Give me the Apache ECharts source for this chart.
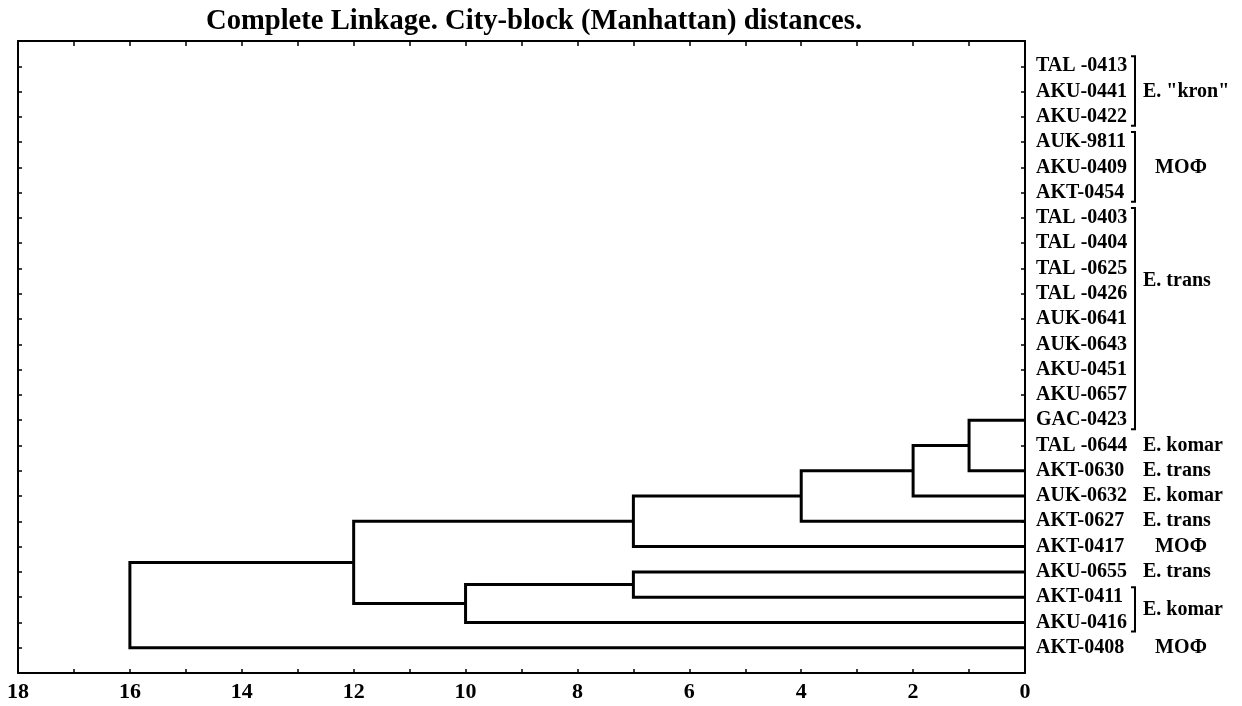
<!DOCTYPE html>
<html>
<head>
<meta charset="utf-8">
<script src="https://cdn.jsdelivr.net/npm/echarts@6/dist/echarts.min.js"></script>
<style>html,body{margin:0;padding:0;background:#fff}#c{width:1242px;height:706px}</style>
</head>
<body>
<div id="c"></div>
<script>
// Leaves, top to bottom (position 1..24)
const leafNames = ['TAL -0413','AKU-0441','AKU-0422','AUK-9811','AKU-0409','AKT-0454',
  'TAL -0403','TAL -0404','TAL -0625','TAL -0426','AUK-0641','AUK-0643','AKU-0451',
  'AKU-0657','GAC-0423','TAL -0644','AKT-0630','AUK-0632','AKT-0627','AKT-0417',
  'AKU-0655','AKT-0411','AKU-0416','AKT-0408'];
// Leaves 1..16 join at distance 0; the group is drawn at the position of GAC-0423
const zeroGroupAnchor = 15;
// Merges: children are leaf positions (numbers) or earlier merge ids
const mergeIds   = ['B','C','D','E','F','G','H','I'];
const mergeLeft  = ['Z','B','C','D',21,'F','E','H'];
const mergeRight = [17, 18, 19, 20, 22, 23,'G',24];
const mergeDist  = [1, 2, 4, 7, 7, 10, 12, 16];
// x axis
const xMin = 0, xMax = 18, xLabelStep = 2;
// right-side annotations
const groupStart = [1, 4, 7, 22];
const groupEnd   = [3, 6, 15, 23];
const groupLabelPos = [2, 5, 9.5, 22.5];
const groupNames = ['E. "kron"', 'МОФ', 'E. trans', 'E. komar'];
const singlePos   = [16, 17, 18, 19, 20, 21, 24];
const singleNames = ['E. komar','E. trans','E. komar','E. trans','МОФ','E. trans','МОФ'];

const FONT = '"Liberation Serif","Times New Roman",serif';

// build dendrogram polylines
const node = {Z: {h: 0, y: zeroGroupAnchor}};
function get(id) { return typeof id === 'number' ? {h: 0, y: id} : node[id]; }
const segs = [];
mergeIds.forEach((id, i) => {
  const a = get(mergeLeft[i]), b = get(mergeRight[i]), h = mergeDist[i];
  segs.push({coords: [[a.h, a.y], [h, a.y], [h, b.y], [b.h, b.y]]});
  node[id] = {h: h, y: (a.y + b.y) / 2};
});

const chart = echarts.init(document.getElementById('c'), null, {renderer: 'canvas'});
const axisLine = {show: true, onZero: false, lineStyle: {color: '#000', width: 2}};
const tick = len => ({show: true, inside: true, length: len, lineStyle: {color: '#000', width: 1.5}});
chart.setOption({
  animation: false,
  backgroundColor: '#fff',
  title: {
    text: 'Complete Linkage. City-block (Manhattan) distances.',
    left: 201, top: 2,
    textStyle: {fontFamily: FONT, fontWeight: 'bold', fontSize: 28.6, color: '#000'}
  },
  grid: {left: 18, right: 217, top: 41, bottom: 33, containLabel: false},
  xAxis: [{
    type: 'value', inverse: true, min: xMin, max: xMax, interval: 1, position: 'bottom',
    axisLine: axisLine, axisTick: tick(4),
    axisLabel: {show: true, margin: 8, color: '#000', fontFamily: FONT, fontWeight: 'bold', fontSize: 22,
      formatter: v => (v % xLabelStep === 0 ? String(v) : '')},
    splitLine: {show: false}
  }, {
    type: 'value', inverse: true, min: xMin, max: xMax, interval: 1, position: 'top',
    axisLine: axisLine, axisTick: tick(5),
    axisLabel: {show: false}, splitLine: {show: false}
  }],
  yAxis: [{
    type: 'value', inverse: true, min: 0, max: leafNames.length + 1, interval: 1, position: 'left',
    axisLine: axisLine, axisTick: tick(4),
    axisLabel: {show: false}, splitLine: {show: false}
  }, {
    type: 'value', inverse: true, min: 0, max: leafNames.length + 1, interval: 1, position: 'right',
    axisLine: axisLine, axisTick: tick(4),
    axisLabel: {show: true, margin: 11, color: '#000', fontFamily: FONT, fontWeight: 'bold', fontSize: 20,
      align: 'left',
      formatter: v => (v >= 1 && v <= leafNames.length ? leafNames[v - 1] : '')},
    splitLine: {show: false}
  }],
  series: [{
    type: 'lines', coordinateSystem: 'cartesian2d', polyline: true,
    xAxisIndex: 0, yAxisIndex: 0,
    lineStyle: {color: '#000', width: 3, opacity: 1},
    silent: true,
    data: segs
  }]
});

// right-side annotations positioned through the axes
const x0 = chart.convertToPixel({xAxisIndex: 0}, 0);
const py = v => chart.convertToPixel({yAxisIndex: 0}, v);
const bracketX = x0 + 110;
const els = [];
const txt = (name, pos) => ({
  type: 'text', silent: true,
  style: {text: name, x: x0 + (name.charAt(0) === 'E' ? 118 : 130), y: py(pos),
    font: 'bold 20px ' + FONT, fill: '#000',
    align: 'left', verticalAlign: 'middle', textAlign: 'left', textVerticalAlign: 'middle'}
});
groupStart.forEach((s, i) => {
  const top = py(s) - 10, bot = py(groupEnd[i]) + 9;
  els.push({type: 'polyline', silent: true,
    shape: {points: [[bracketX - 4, top], [bracketX, top], [bracketX, bot], [bracketX - 4, bot]]},
    style: {stroke: '#000', lineWidth: 2, fill: null}});
  els.push(txt(groupNames[i], groupLabelPos[i]));
});
singlePos.forEach((p, i) => els.push(txt(singleNames[i], p)));
chart.setOption({graphic: els});
</script>
</body>
</html>
